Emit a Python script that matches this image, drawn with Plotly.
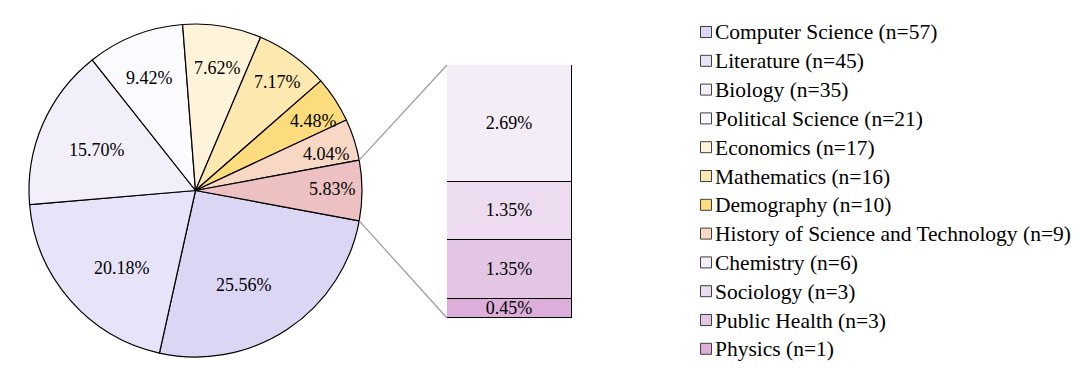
import math
import plotly.graph_objects as go

# ---------------- data ----------------
pie_labels = ["Computer Science", "Literature", "Biology", "Political Science",
              "Economics", "Mathematics", "Demography",
              "History of Science and Technology", "Other"]
pie_counts = [57, 45, 35, 21, 17, 16, 10, 9, 13]
pie_colors = ["#dcd6f5", "#e7e3f8", "#f2effa", "#fbfaff", "#fff4d9",
              "#fde8b0", "#fcdc7c", "#f8d8c4", "#edc1c1"]

bar_labels = ["Chemistry", "Sociology", "Public Health", "Physics"]
bar_counts = [6, 3, 3, 1]
bar_colors = ["#f4ecf6", "#eddcef", "#e2c6e4", "#dcaed9"]

# label placement style (radial fraction and angular nudge, per pie slice)
label_radius = [0.64, 0.64, 0.64, 0.73, 0.75, 0.82, 0.82, 0.815, 0.82]
label_nudge = [-6.5, 5.3, 1.0, 1.0, -0.7, -1.2, -2.6, -2.0, 0.8]

total = sum(pie_counts)

# ---------------- layout geometry ----------------
W, H = 1080, 379
OFF = 8  # page body margin offset


def px(x):
    return (x - OFF) / W


def py(y):
    return 1 - (y - OFF) / H


pie_x = [px(29), px(362)]
pie_y = [py(357), py(24)]
bar_x = [px(447), px(572)]
bar_y = [py(318), py(65)]
FONT = "Liberation Serif"

# rotation so that the "Other" slice is centred at 3 o'clock
other_frac = pie_counts[-1] / total
rotation = 90 + other_frac * 360 / 2

fig = go.Figure()

fig.add_trace(go.Pie(
    labels=pie_labels, values=pie_counts, sort=False, direction="clockwise",
    rotation=rotation,
    marker=dict(colors=pie_colors, line=dict(color="black", width=1.2)),
    textinfo="none",
    domain=dict(x=pie_x, y=pie_y), showlegend=False, hoverinfo="label+value+percent",
))

# stacked bar (bottom first)
for i in reversed(range(len(bar_labels))):
    fig.add_trace(go.Bar(
        x=["Other"], y=[bar_counts[i]], name=f"{bar_labels[i]} (n={bar_counts[i]})",
        marker=dict(color=bar_colors[i], line=dict(color="black", width=1.2)),
        text=[f"{bar_counts[i] / total * 100:.2f}%"], textposition="inside",
        insidetextanchor="middle", constraintext="none",
        textfont=dict(family=FONT, size=18, color="black"),
        width=1, showlegend=False,
    ))

# pie geometry in figure pixels
pw = (pie_x[1] - pie_x[0]) * W
ph = (pie_y[1] - pie_y[0]) * H
r = min(pw, ph) / 2
cx = (pie_x[0] + pie_x[1]) / 2 * W          # from left
cy = (1 - (pie_y[0] + pie_y[1]) / 2) * H    # from top

annotations = []
# pie percentage labels
start = 90 - rotation  # math angle (deg, ccw) of first slice start
cum = 0
for i, v in enumerate(pie_counts):
    mid = start - (cum + v / 2) / total * 360 + label_nudge[i]
    cum += v
    d = label_radius[i] * r
    ax = cx + d * math.cos(math.radians(mid))
    ay = cy - d * math.sin(math.radians(mid))
    annotations.append(dict(
        x=ax / W, y=1 - ay / H, xref="paper", yref="paper",
        text=f"{v / total * 100:.2f}%", showarrow=False,
        xanchor="center", yanchor="middle",
        font=dict(family=FONT, size=18, color="black"),
    ))

# connector lines from "Other" slice edges to bar corners
a_top = math.radians(rotation - other_frac * 360)
a_bot = math.radians(rotation)
shapes = []
for ang, by in ((a_top, bar_y[1]), (a_bot, bar_y[0])):
    x0 = (cx + r * math.sin(ang)) / W
    y0 = 1 - (cy - r * math.cos(ang)) / H
    shapes.append(dict(type="line", xref="paper", yref="paper",
                       x0=x0, y0=y0, x1=bar_x[0], y1=by,
                       line=dict(color="#9a9a9a", width=1.2)))

# legend (custom, to match the compact spacing of the original)
legend_names = [f"{l} (n={c})" for l, c in zip(pie_labels[:-1], pie_counts[:-1])] + \
               [f"{l} (n={c})" for l, c in zip(bar_labels, bar_counts)]
legend_colors = pie_colors[:-1] + bar_colors
row0, row_gap = 32, 28.8
for k, (name, col) in enumerate(zip(legend_names, legend_colors)):
    yc = row0 + k * row_gap
    shapes.append(dict(type="rect", xref="paper", yref="paper",
                       x0=px(700.5), x1=px(711.5), y0=py(yc + 5.5), y1=py(yc - 5.5),
                       fillcolor=col, line=dict(color="#404040", width=1)))
    annotations.append(dict(
        x=px(713), y=py(yc + 0.5), xref="paper", yref="paper", text=name,
        showarrow=False, xanchor="left", yanchor="middle",
        font=dict(family=FONT, size=21.5, color="black"),
    ))

fig.update_layout(
    width=W, height=H, margin=dict(l=0, r=0, t=0, b=0),
    paper_bgcolor="white", plot_bgcolor="white",
    barmode="stack", bargap=0, showlegend=False,
    xaxis=dict(domain=bar_x, visible=False, range=[-0.5, 0.5]),
    yaxis=dict(domain=bar_y, visible=False, range=[0, sum(bar_counts)]),
    shapes=shapes, annotations=annotations,
    font=dict(family=FONT),
)

fig.write_html("out.html")
